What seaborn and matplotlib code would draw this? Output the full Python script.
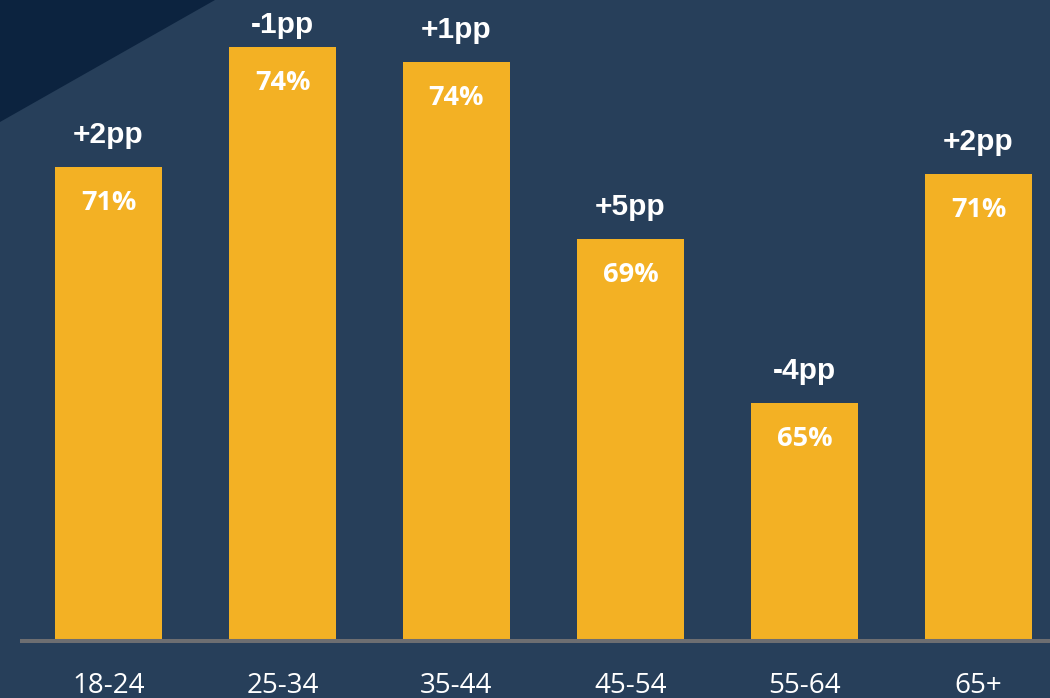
import matplotlib
matplotlib.use("Agg")
import matplotlib.pyplot as plt
import seaborn as sns
import pandas as pd
from matplotlib.patches import Polygon

# ---- data ----
age_groups = ["18-24", "25-34", "35-44", "45-54", "55-64", "65+"]
share = [71.06, 73.99, 73.62, 69.30, 65.30, 70.89]
share_labels = ["71%", "74%", "74%", "69%", "65%", "71%"]
change_labels = ["+2pp", "-1pp", "+1pp", "+5pp", "-4pp", "+2pp"]

BG = "#273F5A"
DARK = "#0C233F"
BAR = "#F3B124"
BASE = "#6D6E71"

sns.set_theme(style="white")
plt.rcParams["font.family"] = ["Open Sans", "DejaVu Sans"]

fig = plt.figure(figsize=(10.5, 6.98), dpi=100, facecolor=BG)
tri = Polygon([(0, 1), (215 / 1050, 1), (0, 1 - 122 / 698)], closed=True,
              transform=fig.transFigure, facecolor=DARK, edgecolor="none", zorder=-1)
fig.patches.append(tri)

ax = fig.add_axes([0, 57 / 698, 1, 1 - 57 / 698])
ax.set_facecolor("none")

df = pd.DataFrame({"age": age_groups, "share": share})
sns.barplot(data=df, x="age", y="share", color=BAR, saturation=1, width=0.615,
            edgecolor="none", linewidth=0, ax=ax)

px = 41.0  # pixels per percentage point
ymin = 59.5
ytop = ymin + 641 / px
ax.set_xlim(-0.6236, 5.411)
ax.set_ylim(ymin, ytop)

for i, (v, pl, cl) in enumerate(zip(share, share_labels, change_labels)):
    y_lab = min(v + 24 / px, ytop - 33 / px)
    ax.text(i, y_lab, cl, ha="center", va="baseline", color="white", fontsize=21.5,
            fontweight="bold", family=["Liberation Sans", "DejaVu Sans"])
    ax.annotate(pl, (i, v), xytext=(0, -31), textcoords="offset points",
                ha="center", va="baseline", color="white", fontsize=19.5,
                fontweight="bold", family=["Open Sans", "DejaVu Sans"])

for s in ["top", "right", "left"]:
    ax.spines[s].set_visible(False)
ax.spines["bottom"].set_color(BASE)
ax.spines["bottom"].set_linewidth(2.9)
ax.spines["bottom"].set_bounds(-0.5, 5.6)

ax.set_xlabel("")
ax.set_ylabel("")
ax.set_yticks([])
ax.tick_params(axis="x", length=0, pad=22, labelsize=20, labelcolor="white")

fig.savefig("out.png", dpi=100, facecolor=BG)
